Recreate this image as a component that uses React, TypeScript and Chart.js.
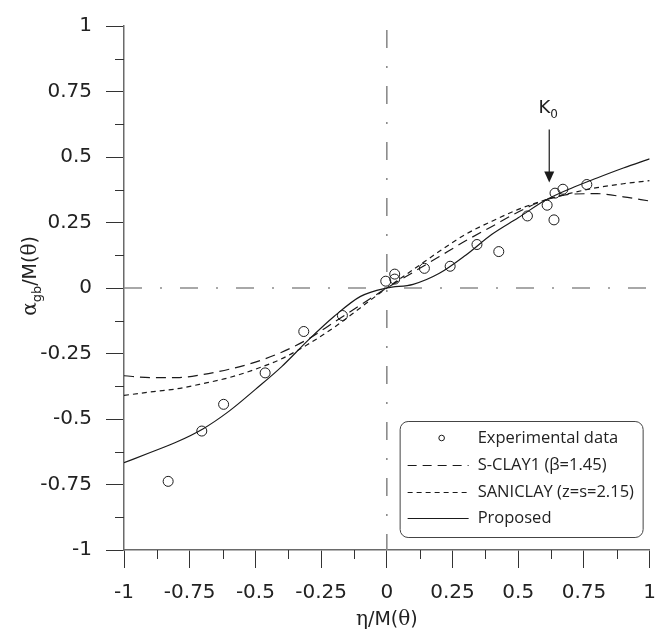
import React, { useEffect, useRef } from 'react';
import { Chart, registerables } from 'chart.js';

Chart.register(...registerables);

// ---- data ----
const curveX = [-1, -0.9, -0.8, -0.7, -0.6, -0.5, -0.4, -0.3, -0.2, -0.1, 0, 0.1, 0.2, 0.3, 0.4, 0.5, 0.6, 0.7, 0.8, 0.9, 1];
const sclay1Y = [-0.335, -0.342, -0.342, -0.33, -0.31, -0.283, -0.245, -0.195, -0.13, -0.065, 0, 0.06, 0.12, 0.18, 0.235, 0.29, 0.335, 0.358, 0.36, 0.348, 0.332];
const saniclayY = [-0.41, -0.397, -0.385, -0.365, -0.342, -0.31, -0.27, -0.215, -0.15, -0.075, 0, 0.07, 0.14, 0.205, 0.255, 0.3, 0.335, 0.362, 0.383, 0.398, 0.41];
const proposedY = [-0.667, -0.628, -0.588, -0.538, -0.47, -0.387, -0.3, -0.2, -0.108, -0.032, 0, 0.014, 0.056, 0.125, 0.205, 0.268, 0.333, 0.38, 0.42, 0.458, 0.493];

const expX = [-0.832, -0.704, -0.621, -0.463, -0.316, -0.169, -0.004, 0.03, 0.03, 0.143, 0.241, 0.343, 0.426, 0.535, 0.61, 0.636, 0.64, 0.67, 0.761];
const expY = [-0.738, -0.546, -0.444, -0.324, -0.166, -0.105, 0.026, 0.053, 0.034, 0.075, 0.083, 0.166, 0.139, 0.275, 0.316, 0.26, 0.362, 0.377, 0.395];

const tickValues = [-1, -0.75, -0.5, -0.25, 0, 0.25, 0.5, 0.75, 1];
const minorTickValues = [-0.875, -0.625, -0.375, -0.125, 0.125, 0.375, 0.625, 0.875];

const legendLabels = ['Experimental data', 'S-CLAY1 (\u03B2=1.45)', 'SANICLAY (z=s=2.15)', 'Proposed'];
const k0Point = { x: 0.618, y: 0.403 };

const SANS = '"DejaVu Sans", Verdana, sans-serif';
const SERIF = '"DejaVu Serif", "Liberation Serif", serif';
const LEG = '"Open Sans", "Noto Sans", sans-serif';
const INK = '#1a1a1a';

type Seg = { text: string; font: string; dy?: number };

function segWidth(ctx: CanvasRenderingContext2D, segs: Seg[]) {
  let w = 0;
  for (const s of segs) {
    ctx.font = s.font;
    w += ctx.measureText(s.text).width;
  }
  return w;
}
function drawSegs(ctx: CanvasRenderingContext2D, segs: Seg[], x: number, y: number) {
  let cx = x;
  for (const s of segs) {
    ctx.font = s.font;
    ctx.fillText(s.text, cx, y + (s.dy || 0));
    cx += ctx.measureText(s.text).width;
  }
}

const overlayPlugin = {
  id: 'overlay',
  beforeDatasetsDraw(chart: any) {
    const { ctx, chartArea, scales } = chart;
    const xs = scales.x;
    const ys = scales.y;
    ctx.save();
    ctx.strokeStyle = '#8c8c8c';
    ctx.lineWidth = 1.6;
    ctx.setLineDash([18, 18, 2, 18]);
    const y0 = ys.getPixelForValue(0);
    ctx.lineDashOffset = 0;
    ctx.beginPath();
    ctx.moveTo(chartArea.left, y0);
    ctx.lineTo(chartArea.right, y0);
    ctx.stroke();
    const x0 = xs.getPixelForValue(0);
    ctx.lineDashOffset = -4;
    ctx.beginPath();
    ctx.moveTo(x0, chartArea.top);
    ctx.lineTo(x0, chartArea.bottom);
    ctx.stroke();
    ctx.restore();
  },
  afterDraw(chart: any) {
    const { ctx, chartArea, scales } = chart;
    const xs = scales.x;
    const ys = scales.y;
    ctx.save();
    // minor ticks
    ctx.strokeStyle = '#333';
    ctx.lineWidth = 1;
    for (const v of minorTickValues) {
      const py = Math.round(ys.getPixelForValue(v)) + 0.5;
      ctx.beginPath();
      ctx.moveTo(chartArea.left - 9, py);
      ctx.lineTo(chartArea.left, py);
      ctx.stroke();
      const px = Math.round(xs.getPixelForValue(v)) + 0.5;
      ctx.beginPath();
      ctx.moveTo(px, chartArea.bottom);
      ctx.lineTo(px, chartArea.bottom + 9);
      ctx.stroke();
    }

    ctx.fillStyle = '#222';
    ctx.textBaseline = 'alphabetic';
    ctx.textAlign = 'left';
    // x title
    const xt: Seg[] = [
      { text: '\u03B7', font: `20px ${SERIF}` },
      { text: '/M(', font: `19px ${SANS}` },
      { text: '\u03B8', font: `20px ${SERIF}` },
      { text: ')', font: `19px ${SANS}` },
    ];
    const xw = segWidth(ctx, xt);
    const xc = (chartArea.left + chartArea.right) / 2;
    drawSegs(ctx, xt, xc - xw / 2, 625);

    // y title
    const yt: Seg[] = [
      { text: '\u03B1', font: `20px ${SERIF}` },
      { text: 'gb', font: `13px ${SANS}`, dy: 5 },
      { text: '/M(', font: `19px ${SANS}` },
      { text: '\u03B8', font: `20px ${SERIF}` },
      { text: ')', font: `19px ${SANS}` },
    ];
    const yw = segWidth(ctx, yt);
    const yc = (chartArea.top + chartArea.bottom) / 2 - 12;
    ctx.save();
    ctx.translate(36, yc);
    ctx.rotate(-Math.PI / 2);
    drawSegs(ctx, yt, -yw / 2, 0);
    ctx.restore();

    // legend box
    const bx = chartArea.right - 250;
    const by = chartArea.bottom - 129;
    const bw = 243;
    const bh = 116;
    ctx.strokeStyle = '#444';
    ctx.lineWidth = 1;
    ctx.beginPath();
    (ctx as any).roundRect(bx + 0.5, by + 0.5, bw, bh, 8);
    ctx.fillStyle = '#fff';
    ctx.fill();
    ctx.stroke();

    const rowY = [by + 17, by + 44, by + 71, by + 97];
    const lx0 = bx + 8;
    const lx1 = bx + 69;
    const tx = bx + 78;
    // experimental marker
    ctx.strokeStyle = INK;
    ctx.lineWidth = 1;
    ctx.beginPath();
    ctx.arc(bx + 42, rowY[0], 2.8, 0, Math.PI * 2);
    ctx.stroke();
    const dashes = [[9, 6], [5, 4], []];
    for (let i = 0; i < 3; i++) {
      ctx.setLineDash(dashes[i]);
      ctx.beginPath();
      ctx.moveTo(lx0, rowY[i + 1] + 0.5);
      ctx.lineTo(lx1, rowY[i + 1] + 0.5);
      ctx.stroke();
    }
    ctx.setLineDash([]);
    ctx.fillStyle = '#222';
    ctx.font = `16.5px ${LEG}`;
    ctx.textBaseline = 'middle';
    legendLabels.forEach((t, i) => ctx.fillText(t, tx, rowY[i]));

    // K0 annotation
    const ax = xs.getPixelForValue(k0Point.x);
    const ay = ys.getPixelForValue(k0Point.y);
    ctx.strokeStyle = INK;
    ctx.fillStyle = INK;
    ctx.lineWidth = 1.2;
    ctx.beginPath();
    ctx.moveTo(ax, ay - 10);
    ctx.lineTo(ax, ay - 53);
    ctx.stroke();
    ctx.beginPath();
    ctx.moveTo(ax, ay);
    ctx.lineTo(ax - 5, ay - 11);
    ctx.lineTo(ax + 5, ay - 11);
    ctx.closePath();
    ctx.fill();
    ctx.textBaseline = 'alphabetic';
    ctx.fillStyle = '#222';
    ctx.font = `18px ${SANS}`;
    const kw = ctx.measureText('K').width;
    ctx.fillText('K', ax - kw + 1, ay - 69);
    ctx.font = `12px ${SANS}`;
    ctx.fillText('0', ax + 1, ay - 64);
    ctx.restore();
  },
};

export default function App() {
  const ref = useRef<HTMLCanvasElement | null>(null);
  useEffect(() => {
    if (!ref.current) return;
    const toXY = (xs: number[], ys: number[]) => xs.map((x, i) => ({ x, y: ys[i] }));
    const lineBase = {
      type: 'line' as const,
      showLine: true,
      pointRadius: 0,
      pointHoverRadius: 0,
      borderColor: INK,
      borderWidth: 1.2,
      fill: false,
      cubicInterpolationMode: 'monotone' as const,
    };
    const chart = new Chart(ref.current, {
      type: 'scatter',
      data: {
        datasets: [
          { ...lineBase, label: legendLabels[1], data: toXY(curveX, sclay1Y), borderDash: [10, 6] },
          { ...lineBase, label: legendLabels[2], data: toXY(curveX, saniclayY), borderDash: [5, 4] },
          { ...lineBase, label: legendLabels[3], data: toXY(curveX, proposedY) },
          {
            label: legendLabels[0],
            data: toXY(expX, expY),
            pointStyle: 'circle',
            pointRadius: 5,
            pointBorderWidth: 1,
            pointBorderColor: INK,
            pointBackgroundColor: 'rgba(255,255,255,0)',
            showLine: false,
          } as any,
        ],
      },
      options: {
        responsive: false,
        animation: false,
        devicePixelRatio: 1,
        layout: { padding: { top: 19, right: 14, left: 0, bottom: 0 } },
        plugins: { legend: { display: false }, tooltip: { enabled: false } },
        scales: {
          x: {
            type: 'linear',
            min: -1,
            max: 1,
            afterBuildTicks: (s: any) => { s.ticks = tickValues.map((v) => ({ value: v })); },
            afterFit: (s: any) => { s.height = 83; },
            grid: { drawOnChartArea: false, drawTicks: true, tickLength: 18, tickColor: '#333', tickWidth: 1 },
            border: { display: true, color: '#6a6a6a', width: 1.5 },
            ticks: {
              padding: 13,
              color: '#222',
              maxRotation: 0,
              font: { family: SANS, size: 20 },
              callback: (v: any) => String(Number(v)),
            },
          },
          y: {
            type: 'linear',
            min: -1,
            max: 1,
            afterBuildTicks: (s: any) => { s.ticks = tickValues.map((v) => ({ value: v })); },
            afterFit: (s: any) => { s.width = 124; },
            grid: { drawOnChartArea: false, drawTicks: true, tickLength: 18, tickColor: '#333', tickWidth: 1 },
            border: { display: true, color: '#6a6a6a', width: 1.5 },
            ticks: {
              padding: 14,
              color: '#222',
              font: { family: SANS, size: 20 },
              callback: (v: any) => String(Number(v)),
            },
          },
        },
      },
      plugins: [overlayPlugin],
    });
    return () => chart.destroy();
  }, []);
  return (
    <div style={{ position: 'absolute', left: 0, top: 0, width: 669, height: 633, background: '#fff' }}>
      <canvas ref={ref} width={669} height={633} style={{ display: 'block' }} />
    </div>
  );
}
